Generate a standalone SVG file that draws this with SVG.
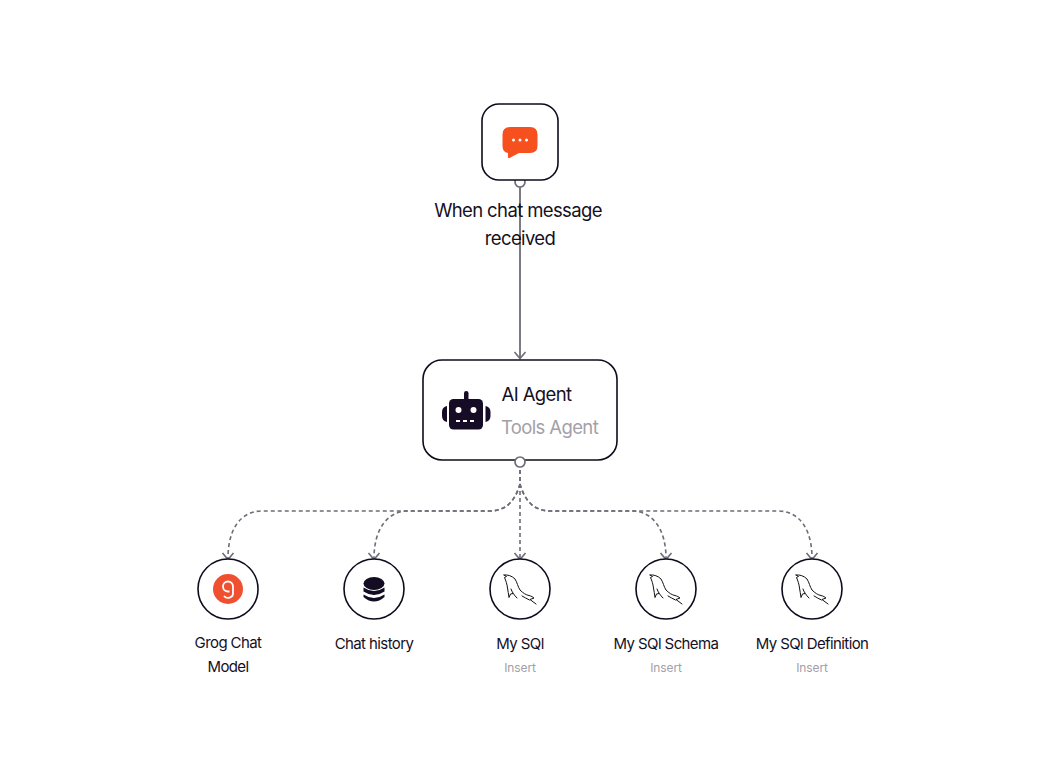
<svg xmlns="http://www.w3.org/2000/svg" width="1040" height="780" viewBox="0 0 1040 780">
<style>
text{font-family:"Inter","Liberation Sans",sans-serif;fill:#14101f;text-anchor:middle}
.lbl{font-size:15px;letter-spacing:-.6px}
.sub{font-size:12px;fill:#a3a0a8;letter-spacing:-.1px}
.big{font-size:18.5px;letter-spacing:-.62px}
.node{fill:#fff;stroke:#0f0a1c;stroke-width:1.6}
.solid{fill:none;stroke:#6f6c76;stroke-width:1.8}
.dash{fill:none;stroke:#6f6c76;stroke-width:1.6;stroke-dasharray:4 3}
.head{fill:none;stroke:#6f6c76;stroke-width:1.6}
.port{fill:#fff;stroke:#6f6c76;stroke-width:1.7}
.fish{fill:none;stroke:#111;stroke-width:1;stroke-linejoin:round;stroke-linecap:round}
</style>
<defs>
<g id="dolphin">
<path class="fish" d="M-16-14C-12-14.500-8-13-5-10C-3-7-2-2 0 1C3 4 6 6 9 6.500C11 7 13 8 14 9L10 10.500L16 15M-16-14L-13.500-12.500L-15.500-11.500C-14-8-13-5-12.500-1C-12 2-11.500 5-11 8.500L-9.500 5L-7 4.500M-9 0C-8 3-6 6-3 9M9.500 11C7 9.500 4 8.500 2 7"/>
</g>
</defs>
<rect width="1040" height="780" fill="#fff"/>
<g id="connectors">
<path class="solid" d="M520 186V358"/>
<path class="head" d="M514.500 352L520 358.500L525.500 352"/>
<path class="dash" d="M520 470V484C516 498 508 511 490 511H262C240 511 228 530 228 558"/>
<path class="dash" d="M520 484C516 498 508 511 490 511H408C387 511 374 530 374 558"/>
<path class="dash" d="M520 470V558"/>
<path class="dash" d="M520 484C524 498 532 511 550 511H632C653 511 666 530 666 558"/>
<path class="dash" d="M520 484C524 498 532 511 550 511H778C800 511 812 530 812 558"/>
<path class="head" d="M222.500 553L228 559.500L233.500 553M368.500 553L374 559.500L379.500 553M514.500 553L520 559.500L525.500 553M660.500 553L666 559.500L671.500 553M806.500 553L812 559.500L817.500 553"/>
</g>
<g id="node-trigger">
<circle class="port" cx="520" cy="182" r="5"/>
<rect class="node" x="482" y="104" width="76" height="76" rx="17"/>
<path fill="#f5501e" d="M510 127H530Q537.500 127 537.500 134.500V146Q537.500 153 530 153H519L509.500 158Q508 158.500 508 157V153Q502.500 152 502.500 146V134.500Q502.500 127 510 127Z"/>
<circle cx="513.500" cy="140" r="1.500" fill="#fff"/><circle cx="520" cy="140" r="1.500" fill="#fff"/><circle cx="526.500" cy="140" r="1.500" fill="#fff"/>
<text class="big" x="518" y="216.500">When chat message</text>
<text class="big" x="520" y="244.500">received</text>
</g>
<g id="node-agent">
<rect class="node" x="423" y="360" width="194" height="100" rx="19"/>
<circle class="port" cx="520" cy="462" r="5"/>
<rect x="449" y="399" width="34" height="30.500" rx="4.500" fill="#170c26"/>
<rect x="464" y="391" width="4.500" height="10" rx="2.200" fill="#170c26"/>
<path fill="#170c26" d="M447 406V422Q442 421 442 416V412Q442 407 447 406ZM485.500 406V422Q490.500 421 490.500 416V412Q490.500 407 485.500 406Z"/>
<circle cx="458.500" cy="410" r="3" fill="#fff"/><circle cx="473.500" cy="410" r="3" fill="#fff"/>
<path d="M456 421H476" stroke="#fff" stroke-width="1.800" stroke-dasharray="4 3" fill="none"/>
<text class="big" x="536.500" y="400.500">AI Agent</text>
<text class="big" x="549.500" y="434" style="fill:#a3a0a8">Tools Agent</text>
</g>
<g id="node-groq">
<circle class="node" cx="228" cy="589" r="30"/>
<circle cx="228" cy="589" r="15" fill="#f0502f"/>
<path d="M229.500 591.500H228A5 5 0 1 1 233 586.500V593A5 4.500 0 0 1 224 596" fill="none" stroke="#fff" stroke-width="1.800"/>
<text class="lbl" x="228" y="648">Grog Chat</text>
<text class="lbl" x="228" y="672">Model</text>
</g>
<g id="node-history">
<circle class="node" cx="374" cy="589" r="30"/>
<ellipse cx="374" cy="583.500" rx="10.500" ry="6.500" fill="#130c22"/>
<path fill="#130c22" d="M363.500 587.500Q374 594.500 384.500 587.500V591.500Q374 598.500 363.500 591.500ZM363.500 594.500Q374 601.500 384.500 594.500V597Q374 606 363.500 597Z"/>
<text class="lbl" x="374" y="649">Chat history</text>
</g>
<g id="node-mysql">
<circle class="node" cx="520" cy="589" r="30"/>
<use href="#dolphin" x="520" y="589"/>
<text class="lbl" x="520" y="649">My SQl</text>
<text class="sub" x="520" y="672">Insert</text>
</g>
<g id="node-schema">
<circle class="node" cx="666" cy="589" r="30"/>
<use href="#dolphin" x="666" y="589"/>
<text class="lbl" x="666" y="649">My SQl Schema</text>
<text class="sub" x="666" y="672">Insert</text>
</g>
<g id="node-definition">
<circle class="node" cx="812" cy="589" r="30"/>
<use href="#dolphin" x="812" y="589"/>
<text class="lbl" x="812" y="649">My SQl Definition</text>
<text class="sub" x="812" y="672">Insert</text>
</g>
</svg>
